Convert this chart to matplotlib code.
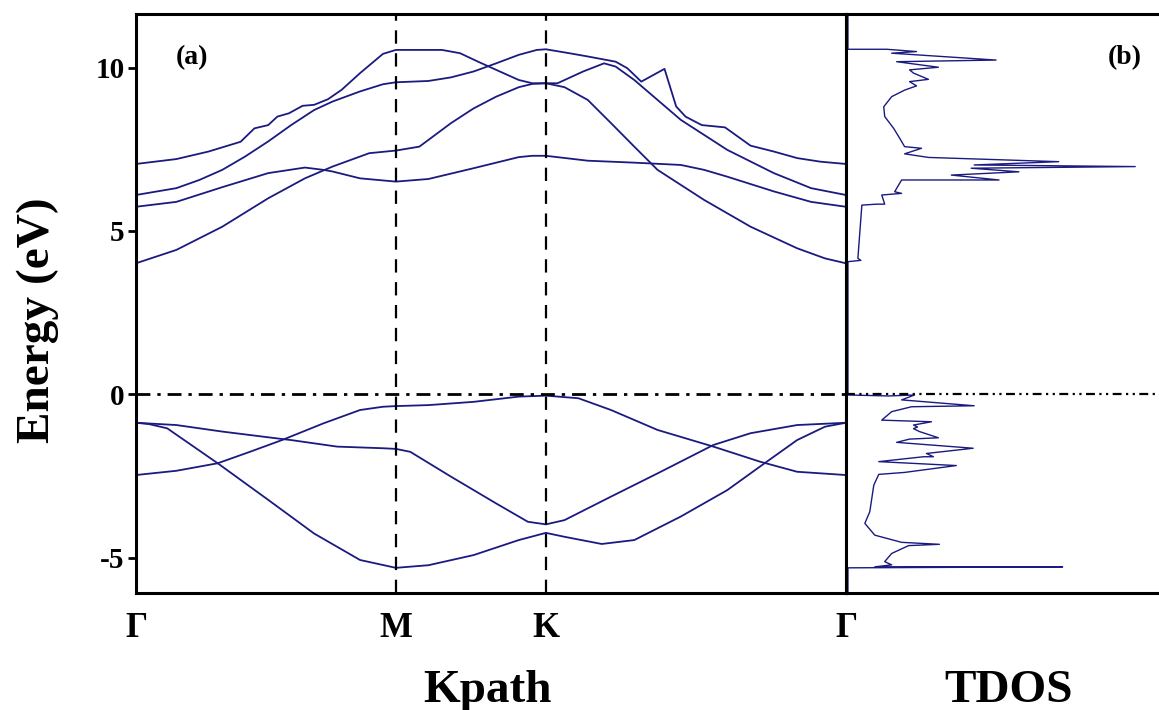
import matplotlib
matplotlib.use("Agg")
import matplotlib.pyplot as plt

plt.rcParams['font.family'] = ['Liberation Serif', 'DejaVu Serif']
plt.rcParams['font.weight'] = 'bold'
plt.rcParams['axes.unicode_minus'] = False

# high-symmetry points along the hexagonal path
kpoints = [0.0, 0.5774, 0.9107, 1.5773]
klabels = ['Γ', 'M', 'K', 'Γ']

# conduction bands: k values and energies (eV)
c1_k = [0.0, 0.0898, 0.1612, 0.2326, 0.2632, 0.2938, 0.3142, 0.3397, 0.3703, 0.3958, 0.4264, 0.4570, 0.4978, 0.5488, 0.5774,
        0.6798, 0.7200, 0.7601, 0.8003, 0.8505, 0.8806, 0.9107,
        0.9365, 0.9934, 1.0399, 1.0657, 1.1071, 1.1587, 1.2104, 1.3138, 1.4171, 1.4998, 1.5773]
c1_e = [7.05, 7.20, 7.43, 7.73, 8.14, 8.24, 8.50, 8.60, 8.83, 8.86, 9.03, 9.32, 9.83, 10.42, 10.54,
        10.54, 10.44, 10.18, 9.93, 9.62, 9.52, 9.52,
        9.52, 9.88, 10.13, 10.03, 9.62, 9.01, 8.40, 7.48, 6.77, 6.31, 6.10]

c2_k = [0.0, 0.0898, 0.1408, 0.1918, 0.2428, 0.2938, 0.3448, 0.3958, 0.4366, 0.4978, 0.5488, 0.5774,
        0.6497, 0.6999, 0.7501, 0.8003, 0.8505, 0.8906, 0.9107,
        0.9624, 1.0037, 1.0657, 1.0916, 1.1226, 1.1742, 1.2001, 1.2208, 1.2569, 1.3086, 1.3654, 1.4171, 1.4688, 1.5205, 1.5773]
c2_e = [6.10, 6.31, 6.56, 6.87, 7.28, 7.74, 8.24, 8.70, 8.96, 9.27, 9.49, 9.55,
        9.59, 9.70, 9.88, 10.13, 10.39, 10.54, 10.56,
        10.44, 10.34, 10.18, 9.98, 9.57, 9.96, 8.81, 8.50, 8.24, 8.17, 7.61, 7.43, 7.23, 7.12, 7.05]

c3_k = [0.0, 0.0898, 0.1918, 0.2938, 0.3754, 0.4162, 0.4366, 0.4978, 0.5774,
        0.6497, 0.7501, 0.8505, 0.8806, 0.9107,
        1.0037, 1.1071, 1.2104, 1.2621, 1.3138, 1.4171, 1.4998, 1.5773]
c3_e = [5.74, 5.89, 6.34, 6.77, 6.94, 6.87, 6.82, 6.61, 6.51,
        6.59, 6.92, 7.26, 7.30, 7.30,
        7.15, 7.09, 7.02, 6.87, 6.66, 6.21, 5.89, 5.74]

c4_k = [0.0, 0.0898, 0.1918, 0.2938, 0.3754, 0.4366, 0.5182, 0.5774,
        0.6296, 0.6999, 0.7501, 0.8003, 0.8505, 0.8806, 0.9107,
        0.9520, 1.0037, 1.0554, 1.1071, 1.1587, 1.2621, 1.3654, 1.4688, 1.5308, 1.5773]
c4_e = [4.01, 4.42, 5.13, 6.00, 6.61, 6.97, 7.38, 7.46,
        7.58, 8.30, 8.75, 9.11, 9.40, 9.50, 9.52,
        9.40, 9.01, 8.30, 7.58, 6.87, 5.95, 5.13, 4.47, 4.16, 4.01]

# valence bands
v1_k = [0.0, 0.0898, 0.1816, 0.2530, 0.3244, 0.4162, 0.4978, 0.5488, 0.5774,
        0.6497, 0.7501, 0.8505, 0.9107,
        0.9830, 1.0554, 1.1587, 1.2828, 1.3861, 1.4688, 1.5773]
v1_e = [-2.47, -2.34, -2.11, -1.76, -1.40, -0.89, -0.48, -0.38, -0.36,
        -0.33, -0.23, -0.07, -0.04,
        -0.12, -0.48, -1.09, -1.60, -2.06, -2.37, -2.47]

v2_k = [0.0, 0.0898, 0.1918, 0.3142, 0.3448, 0.4468, 0.5488, 0.5774,
        0.6095, 0.6999, 0.8003, 0.8706, 0.9107,
        0.9520, 1.0554, 1.1587, 1.2828, 1.3654, 1.4688, 1.5773]
v2_e = [-0.87, -0.94, -1.14, -1.35, -1.40, -1.60, -1.65, -1.67,
        -1.76, -2.52, -3.34, -3.90, -3.98,
        -3.85, -3.13, -2.42, -1.55, -1.19, -0.94, -0.87]

v3_k = [0.0, 0.0286, 0.0694, 0.1816, 0.2938, 0.3958, 0.4978, 0.5774,
        0.6497, 0.7501, 0.8505, 0.9107,
        0.9520, 1.0347, 1.1071, 1.2104, 1.3138, 1.3965, 1.4688, 1.5308, 1.5773]
v3_e = [-0.87, -0.91, -1.04, -2.11, -3.23, -4.26, -5.07, -5.31,
        -5.23, -4.92, -4.46, -4.24,
        -4.36, -4.58, -4.46, -3.74, -2.93, -2.11, -1.40, -0.99, -0.87]

bands = [(c1_k, c1_e), (c2_k, c2_e), (c3_k, c3_e), (c4_k, c4_e),
         (v1_k, v1_e), (v2_k, v2_e), (v3_k, v3_e)]

# total density of states (arbitrary units) vs energy (eV)
dos_e = [11.7, 10.56, 10.56, 10.49, 10.44, 10.23, 10.18, 10.01, 9.93, 9.83, 9.64, 9.57, 9.44, 9.31,
         9.11, 8.80, 8.50, 8.14, 7.84, 7.58, 7.53, 7.36, 7.25, 7.12, 7.02, 6.97, 6.92, 6.81, 6.71,
         6.56, 6.56, 6.20, 6.15, 6.10, 5.82, 5.82, 5.79, 4.16, 4.10, 4.06,
         -0.02, -0.05, -0.02, -0.17, -0.35, -0.38, -0.53, -0.79, -0.84, -0.94, -1.00, -1.05, -1.14,
         -1.33, -1.37, -1.47, -1.65, -1.81, -1.91, -1.91, -2.06, -2.18, -2.39, -2.45, -2.78, -3.59,
         -3.95, -4.31, -4.53, -4.59, -4.63, -4.87, -5.12, -5.22, -5.28, -5.28, -5.31, -6.2]
dos_v = [0.0, 0.0, 3.9, 6.9, 4.4, 14.9, 4.9, 9.1, 6.2, 6.6, 8.1, 6.2, 6.9, 5.7,
         4.4, 3.6, 3.7, 4.6, 5.2, 5.7, 7.4, 5.7, 8.1, 21.2, 12.7, 28.9, 12.4, 17.2, 10.4,
         15.2, 5.4, 4.7, 5.4, 3.4, 3.7, 2.9, 1.4, 1.0, 1.3, 0.0,
         0.0, 4.1, 6.7, 5.4, 12.7, 6.4, 4.4, 3.4, 8.4, 6.6, 7.0, 6.6, 7.2,
         9.1, 6.2, 4.9, 12.6, 7.9, 8.6, 7.6, 3.1, 10.9, 5.7, 3.1, 2.6, 2.2,
         1.7, 2.7, 5.4, 9.2, 6.1, 4.4, 3.7, 4.4, 2.7, 21.6, 0.0, 0.0]

line_color = '#1a1a80'
ylim = (-6.08, 11.64)

fig = plt.figure(figsize=(11.59, 7.10), dpi=100)
ax = fig.add_axes([0.1173, 0.1648, 0.6126, 0.8155])
ax2 = fig.add_axes([0.7299, 0.1648, 0.2813, 0.8155])

for k, e in bands:
    ax.plot(k, e, color=line_color, lw=1.3)

for kp in kpoints[1:-1]:
    ax.axvline(kp, color='black', lw=1.6, dashes=(6, 4.3))
ax.axhline(0, color='black', lw=2.0, linestyle=(0, (5, 2.5, 1.2, 2.5)))

ax.set_xlim(kpoints[0], kpoints[-1])
ax.set_ylim(*ylim)
ax.set_xticks(kpoints)
ax.set_xticklabels(klabels, fontsize=25, fontweight='bold')
ax.tick_params(axis='x', length=0, pad=14)
ax.set_yticks([-5, 0, 5, 10])
ax.set_yticklabels(['-5', '0', '5', '10'], fontsize=21, fontweight='bold')
ax.tick_params(axis='y', direction='out', length=6, width=2, pad=2)
for sp in ax.spines.values():
    sp.set_linewidth(2.2)

ax.set_ylabel('Energy (eV)', fontsize=34, fontweight='bold')
ax.yaxis.set_label_coords(-0.108, 0.472)
ax.text(0.079, 0.924, '(a)', transform=ax.transAxes, fontsize=20,
        fontweight='bold', ha='center', va='center')

ax2.plot(dos_v, dos_e, color=line_color, lw=1.0)
ax2.axhline(0, color='black', lw=1.6, linestyle=(0, (4, 2, 1, 2, 1, 2)))
ax2.set_ylim(*ylim)
ax2.set_xlim(-0.2, 32.6)
ax2.set_xticks([])
ax2.set_yticks([])
for sp in ax2.spines.values():
    sp.set_linewidth(2.2)
ax2.text(0.856, 0.924, '(b)', transform=ax2.transAxes, fontsize=20,
         fontweight='bold', ha='center', va='center')

fig.text(488 / 1159, 1 - 702 / 710, 'Kpath', fontsize=34, fontweight='bold',
         ha='center', va='baseline')
fig.text(1009 / 1159, 1 - 702 / 710, 'TDOS', fontsize=34, fontweight='bold',
         ha='center', va='baseline')

fig.savefig('out.png', dpi=100)
